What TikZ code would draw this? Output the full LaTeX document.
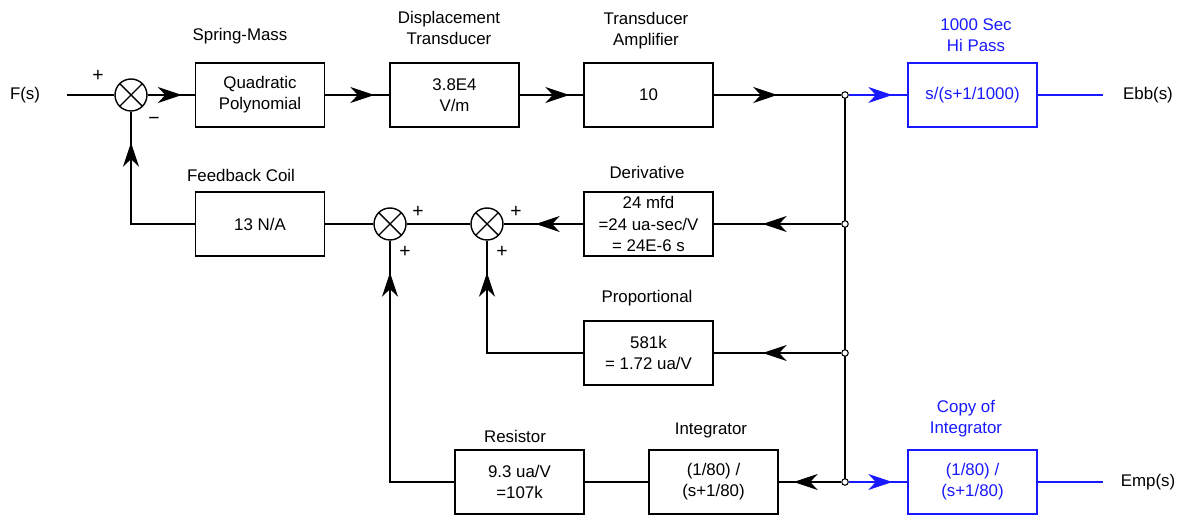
\documentclass[tikz,border=0pt]{standalone}
\usepackage{fontspec}
\setmainfont{Liberation Sans}
\usetikzlibrary{arrows.meta,decorations.markings}
\definecolor{hpblue}{RGB}{25,25,255}
\tikzset{blk/.style={draw,line width=0.8pt,minimum width=2.58cm,minimum height=1.28cm,align=center,inner sep=1pt}}
\tikzset{summer/.style={draw,circle,line width=0.8pt,minimum size=0.64cm,inner sep=0pt,
	path picture={\draw[line width=0.8pt] (path picture bounding box.north west) -- (path picture bounding box.south east)
		(path picture bounding box.north east) -- (path picture bounding box.south west);}}}
\tikzset{junction/.style={circle,draw,fill=white,inner sep=0pt,minimum size=0.13cm,line width=0.6pt}}
\tikzset{arr/.style={postaction={decorate},decoration={markings,mark=at position #1 with {\arrow{Stealth[length=0.48cm,width=0.32cm,inset=0.15cm]}}}}}
\tikzset{sgn/.style={font=\fontsize{11}{12}\selectfont}}

\begin{document}
\begin{tikzpicture}[x=0.02cm,y=-0.02cm,line width=0.8pt,font=\fontsize{9.6}{12}\selectfont]
		\useasboundingbox (0,0) rectangle (1183,516);
		% forward path
		\coordinate (fin) at (67,95);
		\node (fs) at (25,95) {F(s)};
		\node[summer] (sum0) at (131,95) {};
		\node[blk] (qp) at (260,95) {Quadratic\\Polynomial};
		\node[blk] (dt) at (454.5,95) {3.8E4\\V/m};
		\node[blk] (amp) at (648.5,95) {10};
		\node[blk,draw=hpblue,text=hpblue] (hp) at (972.5,95) {s/(s+1/1000)};
		\node at (240,36) {Spring-Mass};
		\node[align=center] at (449,28) {Displacement\\Transducer};
		\node[align=center] at (646,31) {Transducer\\Amplifier};
		\node[align=center,text=hpblue] at (976,35) {1000 Sec\\Hi Pass};
		\node[sgn] at (98,76) {+};
		\node[sgn] at (154,121) {−};
		% feedback path
		\node[summer] (sum1) at (390,224) {};
		\node[summer] (sum2) at (487,224) {};
		\node[blk] (coil) at (260,224) {13 N/A};
		\node[blk] (deriv) at (648.5,224) {24 mfd\\=24 ua-sec/V\\= 24E-6 s};
		\node[blk] (prop) at (648.5,353) {581k\\= 1.72 ua/V};
		\node[blk] (res) at (519.5,482) {9.3 ua/V\\=107k};
		\node[blk] (integ) at (713.5,482) {(1/80) /\\(s+1/80)};
		\node[blk,draw=hpblue,text=hpblue] (copy) at (972.5,482) {(1/80) /\\(s+1/80)};
		\node at (241,175) {Feedback Coil};
		\node at (647,172) {Derivative};
		\node at (647,298) {Proportional};
		\node at (515,436) {Resistor};
		\node at (711,430) {Integrator};
		\node[align=center,text=hpblue] at (966,419) {Copy of\\Integrator};
		\node[sgn] at (418,212) {+};
		\node[sgn] at (405,252) {+};
		\node[sgn] at (516,212) {+};
		\node[sgn] at (502,252) {+};
		% pick-off points
		\coordinate (t1) at (845,95);
		\coordinate (t4) at (845,482);
		\draw (t1) -- (t4);
		\node[junction] (j1) at (t1) {};
		\node[junction] (j2) at (845,224) {};
		\node[junction] (j3) at (845,353) {};
		\node[junction] (j4) at (t4) {};
		% connectors
		\draw (fin) -- (sum0);
		\draw[arr=-0.26cm] (sum0) -- (qp);
		\draw[arr=-0.30cm] (qp) -- (dt);
		\draw[arr=-0.28cm] (dt) -- (amp);
		\draw[arr=-1.28cm] (amp) -- (j1);
		\draw[hpblue,arr=-0.30cm] (j1) -- (hp);
		\draw[arr=-0.98cm] (j2) -- (deriv);
		\draw[arr=-0.64cm] (deriv) -- (sum2);
		\draw (sum2) -- (sum1);
		\draw (sum1) -- (coil);
		\draw[arr=-0.62cm] (coil.west) -| (sum0.south);
		\draw[arr=-0.98cm] (j3) -- (prop);
		\draw[arr=-0.64cm] (prop.west) -| (sum2.south);
		\draw[arr=-0.30cm] (j4) -- (integ);
		\draw (integ) -- (res);
		\draw[arr=-0.64cm] (res.west) -| (sum1.south);
		\draw[hpblue,arr=-0.30cm] (j4) -- (copy);
		% outputs
		\coordinate (ebb) at (1103,95);
		\coordinate (emp) at (1103,482);
		\draw[hpblue] (hp) -- (ebb);
		\draw[hpblue] (copy) -- (emp);
		\node at (1148,95) {Ebb(s)};
		\node at (1148,482) {Emp(s)};
\end{tikzpicture}
\end{document}
